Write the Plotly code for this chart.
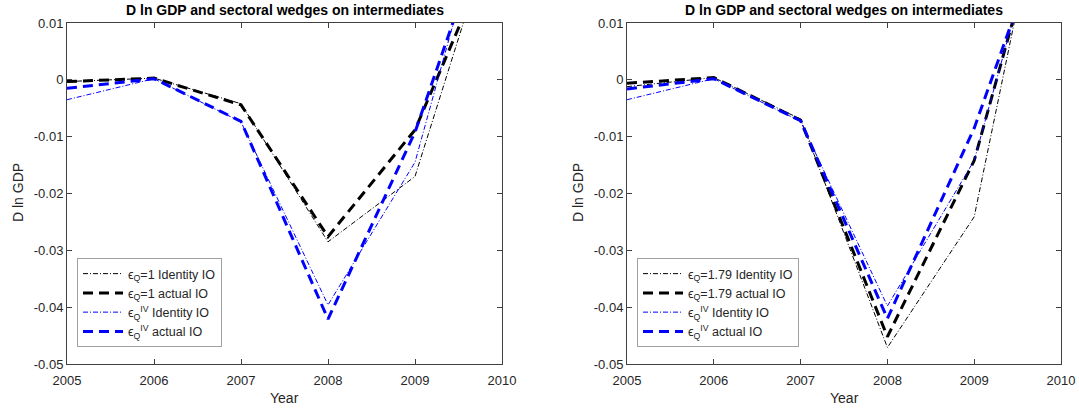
import plotly.graph_objects as go

years = [2005, 2006, 2007, 2008, 2009, 2010]

# Left panel (eps_Q = 1)
left_identity_eq1 = [-0.0003, 0.0003, -0.0042, -0.0285, -0.0170, 0.0316]
left_actual_eq1 = [-0.0003, 0.0003, -0.0044, -0.0276, -0.0088, 0.0270]
left_identity_iv = [-0.0035, 0.0002, -0.0074, -0.0396, -0.0145, 0.0410]
left_actual_iv = [-0.0015, 0.0002, -0.0073, -0.0421, -0.0092, 0.0350]

# Right panel (eps_Q = 1.79)
right_identity_eq = [-0.0012, 0.0004, -0.0069, -0.0471, -0.0241, 0.0500]
right_actual_eq = [-0.0006, 0.0004, -0.0071, -0.0452, -0.0142, 0.0410]
right_identity_iv = [-0.0035, 0.0002, -0.0073, -0.0398, -0.0142, 0.0410]
right_actual_iv = [-0.0016, 0.0002, -0.0072, -0.0420, -0.0085, 0.0345]

left_names = ["ϵ<sub>Q</sub>=1 Identity IO", "ϵ<sub>Q</sub>=1 actual IO",
              "ϵ<sub>Q</sub><sup>IV</sup> Identity IO", "ϵ<sub>Q</sub><sup>IV</sup> actual IO"]
right_names = ["ϵ<sub>Q</sub>=1.79 Identity IO", "ϵ<sub>Q</sub>=1.79 actual IO",
               "ϵ<sub>Q</sub><sup>IV</sup> Identity IO", "ϵ<sub>Q</sub><sup>IV</sup> actual IO"]

title_text = "D ln GDP and sectoral wedges on intermediates"
y_label = "D ln GDP"
x_label = "Year"

xtick_vals = [2005, 2006, 2007, 2008, 2009, 2010]
xtick_text = ["2005", "2006", "2007", "2008", "2009", "2010"]
ytick_vals = [0.01, 0, -0.01, -0.02, -0.03, -0.04, -0.05]
ytick_text = ["0.01", "0", "-0.01", "-0.02", "-0.03", "-0.04", "-0.05"]

styles = [
    dict(color="#000000", width=1, dash="5px,2px,1px,2px"),
    dict(color="#000000", width=3, dash="10px,6px"),
    dict(color="#0000ff", width=1, dash="5px,2px,1px,2px"),
    dict(color="#0000ff", width=3, dash="10px,6px"),
]

FONT = "Liberation Sans, Arial, sans-serif"
TXT = "#262626"

fig = go.Figure()

left_series = [left_identity_eq1, left_actual_eq1, left_identity_iv, left_actual_iv]
right_series = [right_identity_eq, right_actual_eq, right_identity_iv, right_actual_iv]

for vals, name, st in zip(left_series, left_names, styles):
    fig.add_trace(go.Scatter(x=years, y=vals, mode="lines", name=name, line=st,
                             xaxis="x", yaxis="y", legend="legend"))
for vals, name, st in zip(right_series, right_names, styles):
    fig.add_trace(go.Scatter(x=years, y=vals, mode="lines", name=name, line=st,
                             xaxis="x2", yaxis="y2", legend="legend2"))

W, H = 1079, 408
lx0, lx1 = 67 / W, 502 / W
rx0, rx1 = 627 / W, 1061 / W
ytop, ybot = 1 - 23 / H, 1 - 364 / H

axis_common = dict(showline=True, linecolor="#404040", linewidth=1, mirror="ticks",
                   ticks="inside", ticklen=5, tickcolor="#404040", showgrid=False,
                   zeroline=False, automargin=False,
                   tickfont=dict(family=FONT, size=13, color=TXT))

legend_common = dict(xanchor="left", yanchor="top",
                     bordercolor="#a0a0a0", borderwidth=1, bgcolor="white",
                     font=dict(family=FONT, size=12.5, color=TXT), itemwidth=40,
                     tracegroupgap=0)

fig.update_layout(
    template="simple_white",
    width=W, height=H, autosize=False,
    margin=dict(l=0, r=0, t=0, b=0, pad=0, autoexpand=False),
    paper_bgcolor="white", plot_bgcolor="white",
    font=dict(family=FONT, color=TXT),
    xaxis=dict(domain=[lx0, lx1], range=[2005, 2010], tickvals=xtick_vals, ticktext=xtick_text,
               anchor="y", ticklabelstandoff=4, **axis_common),
    yaxis=dict(domain=[ybot, ytop], range=[-0.05, 0.01], tickvals=ytick_vals, ticktext=ytick_text,
               anchor="x", ticklabelstandoff=0, **axis_common),
    xaxis2=dict(domain=[rx0, rx1], range=[2005, 2010], tickvals=xtick_vals, ticktext=xtick_text,
                anchor="y2", ticklabelstandoff=4, **axis_common),
    yaxis2=dict(domain=[ybot, ytop], range=[-0.05, 0.01], tickvals=ytick_vals, ticktext=ytick_text,
                anchor="x2", ticklabelstandoff=0, **axis_common),
    legend=dict(x=77 / W, y=1 - 258 / H, **legend_common),
    legend2=dict(x=637 / W, y=1 - 258 / H, **legend_common),
    showlegend=True,
)

annots = []
for cx in [(67 + 502) / 2 / W, (627 + 1061) / 2 / W]:
    annots.append(dict(text="<b>" + title_text + "</b>", x=cx, y=1 - 10 / H, xref="paper", yref="paper",
                       showarrow=False, xanchor="center", yanchor="middle",
                       font=dict(family=FONT, size=14, color="#000000")))
    annots.append(dict(text=x_label, x=cx, y=1 - 398 / H, xref="paper", yref="paper",
                       showarrow=False, xanchor="center", yanchor="middle",
                       font=dict(family=FONT, size=14, color=TXT)))
for lx in [18 / W, 578 / W]:
    annots.append(dict(text=y_label, x=lx, y=1 - 193 / H, xref="paper", yref="paper",
                       showarrow=False, xanchor="center", yanchor="middle", textangle=-90,
                       font=dict(family=FONT, size=14, color=TXT)))
fig.update_layout(annotations=annots)

fig.write_html("out.html")
